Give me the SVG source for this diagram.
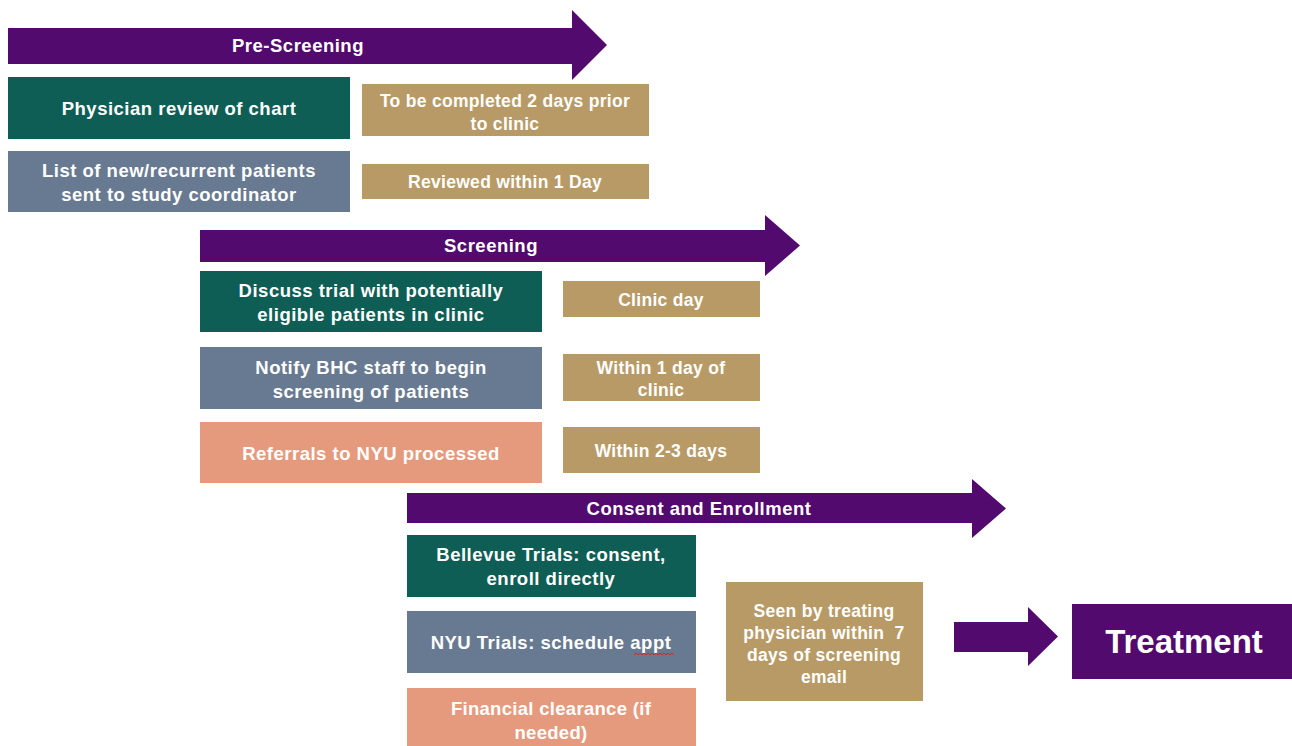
<svg xmlns="http://www.w3.org/2000/svg" width="1292" height="746" viewBox="0 0 1292 746">
<style>
text{font-family:"Liberation Sans",Arial,sans-serif;font-weight:bold;fill:#fff;text-anchor:middle;font-size:18.5px;letter-spacing:0.5px}
text.t{font-size:17.5px;letter-spacing:0.3px}
.arrow{fill:#520A6E}
.green{fill:#0F5E55}
.slate{fill:#687A91}
.salmon{fill:#E59A7E}
.tan{fill:#B89A66}
</style>
<rect width="1292" height="746" fill="#fff"/>
<g id="connectors">
<polygon class="arrow" points="8,28 572,28 572,10 607,45 572,80 572,64 8,64"/>
<polygon class="arrow" points="200,230 765,230 765,215 800,245.5 765,276 765,262 200,262"/>
<polygon class="arrow" points="407,493 972,493 972,479 1006,508.5 972,538 972,523 407,523"/>
<polygon class="arrow" points="954,622 1028,622 1028,607 1058,636.5 1028,666 1028,652 954,652"/>
</g>
<g id="labels-arrows">
<text x="298" y="52">Pre-Screening</text>
<text x="491" y="252">Screening</text>
<text x="699" y="515">Consent and Enrollment</text>
</g>
<g id="n1"><rect class="green" x="8" y="77" width="342" height="62"/><text x="179" y="115">Physician review of chart</text></g>
<g id="n2"><rect class="tan" x="362" y="84" width="287" height="52"/><text class="t" x="505" y="107">To be completed 2 days prior</text><text class="t" x="505" y="130">to clinic</text></g>
<g id="n3"><rect class="slate" x="8" y="151" width="342" height="61"/><text x="179" y="177">List of new/recurrent patients</text><text x="179" y="201">sent to study coordinator</text></g>
<g id="n4"><rect class="tan" x="362" y="164" width="287" height="35"/><text class="t" x="505" y="188">Reviewed within 1 Day</text></g>
<g id="n5"><rect class="green" x="200" y="271" width="342" height="61"/><text x="371" y="297">Discuss trial with potentially</text><text x="371" y="321">eligible patients in clinic</text></g>
<g id="n6"><rect class="tan" x="563" y="281" width="197" height="36"/><text class="t" x="661" y="306">Clinic day</text></g>
<g id="n7"><rect class="slate" x="200" y="347" width="342" height="62"/><text x="371" y="374">Notify BHC staff to begin</text><text x="371" y="398">screening of patients</text></g>
<g id="n8"><rect class="tan" x="563" y="354" width="197" height="47"/><text class="t" x="661" y="374">Within 1 day of</text><text class="t" x="661" y="396">clinic</text></g>
<g id="n9"><rect class="salmon" x="200" y="422" width="342" height="61"/><text x="371" y="460">Referrals to NYU processed</text></g>
<g id="n10"><rect class="tan" x="563" y="427" width="197" height="46"/><text class="t" x="661" y="457">Within 2-3 days</text></g>
<g id="n11"><rect class="green" x="407" y="535" width="289" height="62"/><text x="551" y="561">Bellevue Trials: consent,</text><text x="551" y="585">enroll directly</text></g>
<g id="n12"><rect class="slate" x="407" y="611" width="289" height="62"/><text x="551" y="649">NYU Trials: schedule appt</text><path d="M634,655 l2,-2 l2,2 l2,-2 l2,2 l2,-2 l2,2 l2,-2 l2,2 l2,-2 l2,2 l2,-2 l2,2 l2,-2 l2,2 l2,-2 l2,2 l2,-2 l2,2 l2,-2 l2,2" fill="none" stroke="#d22" stroke-width="1"/></g>
<g id="n13"><rect class="salmon" x="407" y="688" width="289" height="58"/><text x="551" y="715" style="letter-spacing:0.3px">Financial clearance (if</text><text x="551" y="739" style="letter-spacing:0.3px">needed)</text></g>
<g id="n14"><rect class="tan" x="726" y="582" width="197" height="119"/><text class="t" x="824" y="617">Seen by treating</text><text class="t" x="824" y="639">physician within&#160; 7</text><text class="t" x="824" y="661">days of screening</text><text class="t" x="824" y="683">email</text></g>
<g id="n15"><rect class="arrow" x="1072" y="604" width="220" height="75"/><text x="1184" y="653" style="font-size:33px;letter-spacing:0">Treatment</text></g>
</svg>
